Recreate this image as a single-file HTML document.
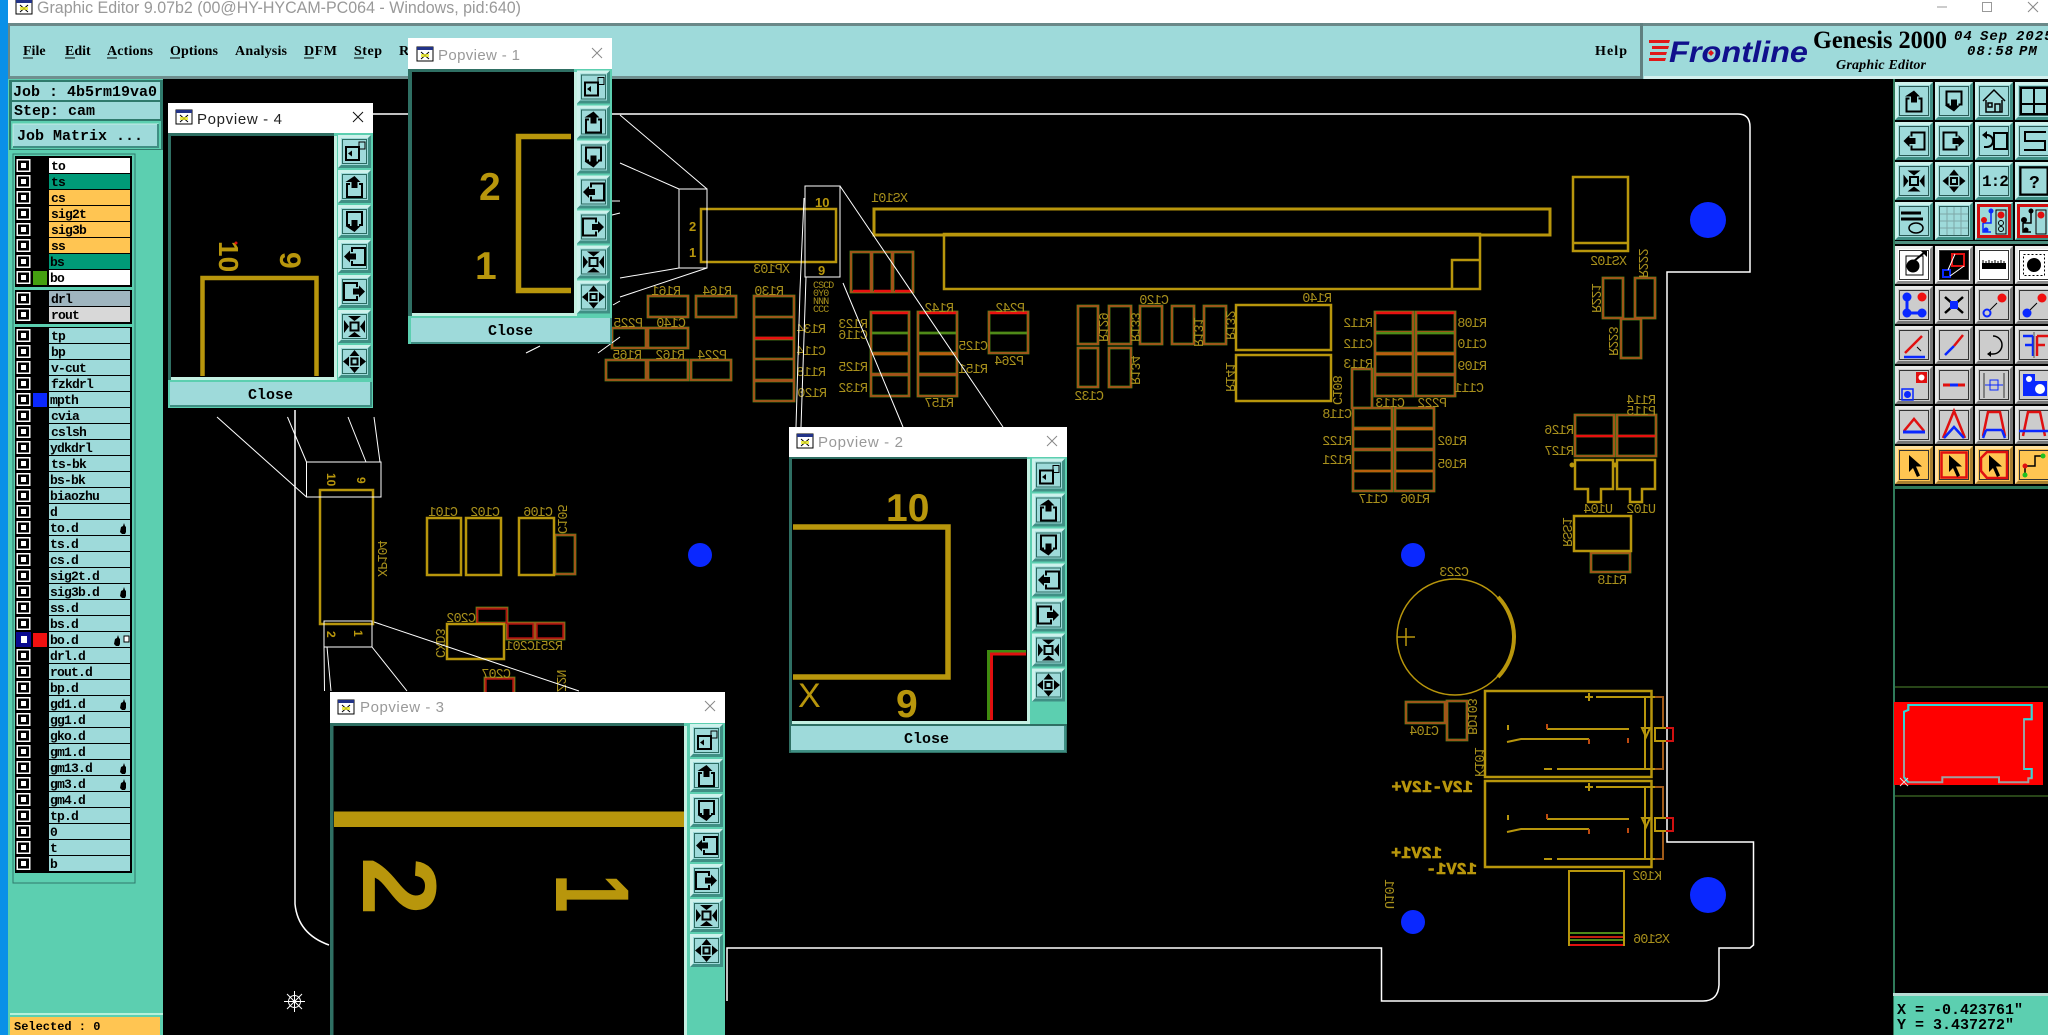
<!DOCTYPE html>
<html><head><meta charset="utf-8"><title>Graphic Editor</title>
<style>
html,body{margin:0;padding:0;background:#000;width:2048px;height:1035px;overflow:hidden}
svg{display:block;position:absolute;left:0;top:0}
text{white-space:pre}
.m{font:bold 15px "Liberation Mono",monospace;fill:#000}
.l{font:bold 13px "Liberation Mono",monospace;letter-spacing:-.8px;fill:#000}
.n{font:bold 14px "Liberation Serif",serif;fill:#000}
.p{font:13.5px "Liberation Mono",monospace;letter-spacing:-.9px;fill:#a8901c}
.w{fill:none;stroke:#fff;stroke-width:1}
.g{fill:none;stroke:#b8960c;stroke-width:2.5}
.t{font:15px "Liberation Sans",sans-serif;fill:#999}
.d{font-family:"Liberation Sans",sans-serif;font-weight:bold;fill:#b8960c}
.b{font:bold 17px "Liberation Mono",monospace;fill:#b8960c;stroke:#b8960c;stroke-width:.6}
.i{fill:none;stroke:#000;stroke-width:2}
</style></head><body>
<svg width="2048" height="1035" viewBox="0 0 2048 1035" xmlns="http://www.w3.org/2000/svg">
<defs>
<path id="smd" d="M648 296h40v21h-40zM696 296h40v21h-40zM754 296h40v21h-40zM754 317h40v21h-40zM754 339h40v20h-40zM754 359h40v21h-40zM754 381h40v20h-40zM612 328h34v20h-34zM648 328h40v20h-40zM606 360h40v20h-40zM648 360h40v20h-40zM691 360h40v20h-40zM851 252h20v40h-20zM872 252h20v40h-20zM893 252h20v40h-20zM871 312h38v21h-38zM871 333h38v20h-38zM871 354h38v20h-38zM871 375h38v21h-38zM918 312h39v21h-39zM918 333h39v20h-39zM918 354h39v20h-39zM918 375h39v21h-39zM989 312h39v21h-39zM989 333h39v20h-39zM1078 306h20v38h-20zM1109 306h22v38h-22zM1140 306h22v38h-22zM1172 306h22v38h-22zM1204 306h22v38h-22zM1078 348h20v39h-20zM1109 348h22v39h-22zM1352 369h20v39h-20zM1375 312h38v20h-38zM1375 333h38v20h-38zM1375 354h38v20h-38zM1375 375h38v21h-38zM1416 312h39v20h-39zM1416 333h39v20h-39zM1416 354h39v20h-39zM1416 375h39v21h-39zM1353 408h39v20h-39zM1353 429h39v20h-39zM1353 450h39v21h-39zM1353 471h39v20h-39zM1395 408h39v20h-39zM1395 429h39v20h-39zM1395 450h39v21h-39zM1395 471h39v20h-39zM1603 278h20v40h-20zM1635 278h20v40h-20zM1621 319h20v39h-20zM1575 415h39v21h-39zM1575 436h39v20h-39zM1617 415h39v21h-39zM1617 436h39v20h-39zM1591 553h39v19h-39zM1406 702h39v21h-39zM1447 701h20v39h-20zM555 535h20v39h-20zM477 608h30v15h-30zM507 623h27v16h-27zM536 623h28v16h-28zM485 678h29v30h-29z"/>
<g id="cb"><rect x="16.5" y="1" width="14" height="13" fill="#fff"/><rect x="18" y="2.5" width="11" height="10" fill="#000"/><rect x="21" y="5" width="5" height="5" fill="#fff"/></g>
<g id="r"><use href="#cb"/><rect x="49" y="0" width="81" height="15" fill="#9edada"/></g>
<path id="hand" d="M0 9l1-5 2-1 1-3 1 3 1 1v5l-1 2H2z" fill="#000"/>
<g id="wi"><rect width="16" height="14" fill="#fff" stroke="#000"/><rect width="16" height="3" fill="#223388"/><path d="M4 5l8 7M12 5l-8 7" stroke="#000"/><rect x="4" y="7" width="8" height="3" fill="#e8e820" opacity=".8"/></g>
<g id="iup"><path d="M16.5 6l6 6h-3v6h-6v-6h-6z"/><path class="i" d="M12 14H9v13h15V14h-3"/></g>
<g id="idn"><path class="i" d="M21 20h3V7H9v13h3"/><path d="M16.5 27l6-6h-3v-6h-6v6h-6z"/></g>
<g id="ilf"><path d="M6 16.5l6-6v3h6v6h-6v3z"/><path class="i" d="M14 12V8h13v17H14v-4"/></g>
<g id="irt"><path d="M27 16.5l-6-6v3h-6v6h6v3z"/><path class="i" d="M19 12V8H6v17h13v-4"/></g>
<g id="iin"><rect class="i" x="12.5" y="12.5" width="8" height="8"/><path d="M10 6h13l-6.5 5zM10 27h13l-6.5-5zM6 10v13l5-6.5zM27 10v13l-5-6.5z"/></g>
<g id="iout"><rect class="i" x="13.5" y="13.5" width="6" height="6"/><path d="M16.5 5l5 6h-10zM16.5 28l5-6h-10zM5 16.5l6 5v-10zM28 16.5l-6 5v-10z"/></g>
<g id="iback"><rect class="i" x="8" y="12" width="13" height="13"/><rect x="21" y="7" width="6" height="7" fill="none" stroke="#000"/><path d="M10 18.5l4-3v6z"/></g>
<g id="pb"><rect width="33" height="33" fill="#9edada"/><path d="M0 33V0h33l-3 3H3v27z" fill="#cdf2ec"/><path d="M33 0v33H0l3-3h27V3z" fill="#3f8f84"/><rect x="4.5" y="4.5" width="24" height="24" fill="none" stroke="#2a6a60"/></g>
<g id="side">
<use href="#pb"/><use href="#iback"/>
<g transform="translate(0,35)"><use href="#pb"/><use href="#iup"/></g>
<g transform="translate(0,70)"><use href="#pb"/><use href="#idn"/></g>
<g transform="translate(0,105)"><use href="#pb"/><use href="#ilf"/></g>
<g transform="translate(0,140)"><use href="#pb"/><use href="#irt"/></g>
<g transform="translate(0,175)"><use href="#pb"/><use href="#iin"/></g>
<g transform="translate(0,210)"><use href="#pb"/><use href="#iout"/></g>
</g>
<g id="bT"><rect width="38" height="38" fill="#9edada"/><path d="M0 38V0h38l-3 3H3v32z" fill="#cdf2ec"/><path d="M38 0v38H0l3-3h32V3z" fill="#3f8f84"/><rect x="4.5" y="4.5" width="29" height="29" fill="none" stroke="#2a5a55"/></g>
<g id="bW"><rect width="38" height="38" fill="#fff"/><path d="M0 38V0h38l-3 3H3v32z" fill="#eee"/><path d="M38 0v38H0l3-3h32V3z" fill="#8a8a8a"/><rect x="4.5" y="4.5" width="29" height="29" fill="none" stroke="#333"/></g>
<g id="bG"><rect width="38" height="38" fill="#cccccc"/><path d="M0 38V0h38l-3 3H3v32z" fill="#e8e8e8"/><path d="M38 0v38H0l3-3h32V3z" fill="#777"/><rect x="4.5" y="4.5" width="29" height="29" fill="none" stroke="#333"/></g>
<g id="bO"><rect width="38" height="38" fill="#ffc552"/><path d="M0 38V0h38l-3 3H3v32z" fill="#ffe0a0"/><path d="M38 0v38H0l3-3h32V3z" fill="#a88030"/><rect x="4.5" y="4.5" width="29" height="29" fill="none" stroke="#333"/></g>
<path id="cur" d="M14 9v17l4-4 4 9 3-1.500-4-9h6z"/>
<g id="kk">
<rect class="g" x="1485" y="691" width="166.500" height="86"/>
<path d="M1596 697h59M1557 769h98M1645 697v72" fill="none" stroke="#b8960c" stroke-width="2"/>
<path d="M1655 697h8v31M1663 741v28h-8" fill="none" stroke="#a05a18" stroke-width="2"/>
<path d="M1585 697h8M1589 693v8M1544 769h8" stroke="#b8960c" stroke-width="2"/>
<path d="M1547 729h82M1507 742l14-3h68M1508 725v5" fill="none" stroke="#b8960c" stroke-width="2"/>
<path d="M1589 739v5M1628 738v5M1547 724v5" stroke="#c04a10" stroke-width="2"/>
<path d="M1642 728h8l-4 9z" fill="none" stroke="#b8960c" stroke-width="2"/>
<path d="M1666 728h-11v13h11" fill="none" stroke="#b8960c" stroke-width="2"/>
<path d="M1666 728h7v13h-7" fill="none" stroke="#d01010" stroke-width="2"/>
</g>
</defs>

<rect width="2048" height="1035" fill="#000"/>
<!-- window chrome -->
<rect x="0" y="0" width="8" height="1035" fill="#0a90e8"/>
<rect x="8" y="0" width="2040" height="23" fill="#fff"/>
<use href="#wi" x="16" y="0"/>
<text x="37" y="13" font-family="Liberation Sans,sans-serif" font-size="16.500" fill="#999" textLength="484" lengthAdjust="spacingAndGlyphs">Graphic Editor 9.07b2 (00@HY-HYCAM-PC064 - Windows, pid:640)</text>
<path d="M1937 7h10" stroke="#999"/><rect x="1982.500" y="2.500" width="9" height="9" fill="none" stroke="#999"/><path d="M2028 2l10 10M2038 2l-10 10" stroke="#888"/>

<!-- menu bar -->
<rect x="8" y="23" width="2040" height="56" fill="#9edada"/>
<rect x="8" y="23" width="2040" height="3" fill="#6a8888"/>
<rect x="8" y="76" width="1632" height="3" fill="#6f8f8f"/>
<rect x="1644" y="76" width="404" height="3" fill="#d4f0ee"/>
<rect x="8" y="23" width="2" height="56" fill="#6a8888"/>
<rect x="1640" y="23" width="3" height="56" fill="#5f7f7f"/>
<text class="n" x="23" y="55">File</text><path d="M23 58h10" stroke="#000"/>
<text class="n" x="65" y="55">Edit</text><path d="M65 58h10" stroke="#000"/>
<text class="n" x="107" y="55" textLength="46">Actions</text><path d="M107 58h10" stroke="#000"/>
<text class="n" x="170" y="55" textLength="48">Options</text><path d="M170 58h10" stroke="#000"/>
<text class="n" x="235" y="55" textLength="52">Analysis</text>
<text class="n" x="304" y="55" textLength="33">DFM</text><path d="M304 58h10" stroke="#000"/>
<text class="n" x="354" y="55" textLength="28">Step</text><path d="M354 58h10" stroke="#000"/>
<text class="n" x="399" y="55">R</text>
<text class="n" x="1595" y="55" textLength="32">Help</text>
<path d="M1649 40h21l-1 3h-20zM1652 46h17l-1 3h-16zM1650 52h17l-1 3h-16zM1649 58h17l-1 3h-16z" fill="#e01818"/>
<text x="1669" y="62" font-family="Liberation Sans,sans-serif" font-weight="bold" font-style="italic" font-size="30" fill="#10108c" textLength="139" lengthAdjust="spacingAndGlyphs">Frontline</text>
<path d="M1711 50l3 3-3 3-3-3z" fill="#e01818"/>
<text x="1813" y="48" font-family="Liberation Serif,serif" font-weight="bold" font-size="25" fill="#000" textLength="134" lengthAdjust="spacingAndGlyphs">Genesis 2000</text>
<text x="1836" y="69" font-family="Liberation Serif,serif" font-weight="bold" font-style="italic" font-size="14" fill="#000" textLength="90">Graphic Editor</text>
<g font-family="Liberation Mono,monospace" font-weight="bold" font-style="italic" font-size="14" fill="#000" letter-spacing="1">
<text x="1954" y="40">04</text><text x="1980" y="40">Sep</text><text x="2016" y="40">2025</text>
<text x="1967" y="55">08:58</text><text x="2019" y="55">PM</text></g>

<!-- left panel -->
<rect x="8" y="79" width="155" height="956" fill="#5ccfb0"/>
<rect x="9" y="80" width="154" height="70" fill="#2f7a6c"/>
<rect x="12" y="82" width="148" height="18" fill="#9edada"/>
<rect x="12" y="102" width="148" height="17" fill="#9edada"/>
<rect x="11" y="121" width="150" height="28" fill="#5ccfb0"/>
<rect x="13" y="124" width="145" height="23" fill="#9edada" stroke="#c4ece6"/>
<path d="M13 147h145v-23" fill="none" stroke="#3f8f84" stroke-width="2"/>
<text class="m" x="13" y="96">Job : 4b5rm19va0</text>
<text class="m" x="14" y="115">Step: cam</text>
<text class="m" x="17" y="140">Job Matrix ...</text>

<rect x="13" y="154" width="122" height="729" fill="#5ccfb0" stroke="#2f7a6c"/>
<rect x="15" y="156" width="117" height="131" fill="#000"/>
<rect x="15" y="290" width="117" height="34" fill="#000"/>
<rect x="15" y="327" width="117" height="546" fill="#000"/>

<g transform="translate(0,158)"><use href="#cb"/><rect x="49" width="81" height="15" fill="#fff"/><text class="l" x="51" y="12">to</text></g>
<g transform="translate(0,174)"><use href="#cb"/><rect x="49" width="81" height="15" fill="#009a78"/><text class="l" x="51" y="12">ts</text></g>
<g transform="translate(0,190)"><use href="#cb"/><rect x="49" width="81" height="15" fill="#ffc552"/><text class="l" x="51" y="12">cs</text></g>
<g transform="translate(0,206)"><use href="#cb"/><rect x="49" width="81" height="15" fill="#ffc552"/><text class="l" x="51" y="12">sig2t</text></g>
<g transform="translate(0,222)"><use href="#cb"/><rect x="49" width="81" height="15" fill="#ffc552"/><text class="l" x="51" y="12">sig3b</text></g>
<g transform="translate(0,238)"><use href="#cb"/><rect x="49" width="81" height="15" fill="#ffc552"/><text class="l" x="51" y="12">ss</text></g>
<g transform="translate(0,254)"><use href="#cb"/><rect x="49" width="81" height="15" fill="#009a78"/><text class="l" x="50" y="12">bs</text></g>
<g transform="translate(0,270)"><use href="#cb"/><rect x="33" y="1" width="14" height="14" fill="#45a010"/><rect x="49" width="81" height="15" fill="#fff"/><text class="l" x="50" y="12">bo</text></g>
<g transform="translate(0,291)"><use href="#cb"/><rect x="49" width="81" height="15" fill="#9fb5bf"/><text class="l" x="51" y="12">drl</text></g>
<g transform="translate(0,307)"><use href="#cb"/><rect x="49" width="81" height="15" fill="#d8d8d8"/><text class="l" x="51" y="12">rout</text></g>

<g transform="translate(0,328)"><use href="#r"/><text class="l" x="51" y="12">tp</text></g>
<g transform="translate(0,344)"><use href="#r"/><text class="l" x="51" y="12">bp</text></g>
<g transform="translate(0,360)"><use href="#r"/><text class="l" x="51" y="12">v-cut</text></g>
<g transform="translate(0,376)"><use href="#r"/><text class="l" x="51" y="12">fzkdrl</text></g>
<g transform="translate(0,392)"><use href="#r"/><rect x="33" y="1" width="14" height="14" fill="#0a28ff"/><text class="l" x="50" y="12">mpth</text></g>
<g transform="translate(0,408)"><use href="#r"/><text class="l" x="51" y="12">cvia</text></g>
<g transform="translate(0,424)"><use href="#r"/><text class="l" x="51" y="12">cslsh</text></g>
<g transform="translate(0,440)"><use href="#r"/><text class="l" x="50" y="12">ydkdrl</text></g>
<g transform="translate(0,456)"><use href="#r"/><text class="l" x="51" y="12">ts-bk</text></g>
<g transform="translate(0,472)"><use href="#r"/><text class="l" x="50" y="12">bs-bk</text></g>
<g transform="translate(0,488)"><use href="#r"/><text class="l" x="50" y="12">biaozhu</text></g>
<g transform="translate(0,504)"><use href="#r"/><text class="l" x="50" y="12">d</text></g>
<g transform="translate(0,520)"><use href="#r"/><text class="l" x="50" y="12">to.d</text><use href="#hand" x="120" y="3"/></g>
<g transform="translate(0,536)"><use href="#r"/><text class="l" x="50" y="12">ts.d</text></g>
<g transform="translate(0,552)"><use href="#r"/><text class="l" x="50" y="12">cs.d</text></g>
<g transform="translate(0,568)"><use href="#r"/><text class="l" x="50" y="12">sig2t.d</text></g>
<g transform="translate(0,584)"><use href="#r"/><text class="l" x="50" y="12">sig3b.d</text><use href="#hand" x="120" y="3"/></g>
<g transform="translate(0,600)"><use href="#r"/><text class="l" x="50" y="12">ss.d</text></g>
<g transform="translate(0,616)"><use href="#r"/><text class="l" x="50" y="12">bs.d</text></g>
<g transform="translate(0,632)"><rect x="16" y="0" width="15" height="15" fill="#0a0a90"/><rect x="21" y="4" width="6" height="7" fill="#fff"/><rect x="33" y="1" width="14" height="14" fill="#f01010"/><rect x="49" width="81" height="15" fill="#9edada"/><text class="l" x="50" y="12">bo.d</text><use href="#hand" x="114" y="3"/><rect x="124" y="4" width="5" height="6" fill="#fff" stroke="#000"/></g>
<g transform="translate(0,648)"><use href="#r"/><text class="l" x="50" y="12">drl.d</text></g>
<g transform="translate(0,664)"><use href="#r"/><text class="l" x="50" y="12">rout.d</text></g>
<g transform="translate(0,680)"><use href="#r"/><text class="l" x="50" y="12">bp.d</text></g>
<g transform="translate(0,696)"><use href="#r"/><text class="l" x="50" y="12">gd1.d</text><use href="#hand" x="120" y="3"/></g>
<g transform="translate(0,712)"><use href="#r"/><text class="l" x="50" y="12">gg1.d</text></g>
<g transform="translate(0,728)"><use href="#r"/><text class="l" x="50" y="12">gko.d</text></g>
<g transform="translate(0,744)"><use href="#r"/><text class="l" x="50" y="12">gm1.d</text></g>
<g transform="translate(0,760)"><use href="#r"/><text class="l" x="50" y="12">gm13.d</text><use href="#hand" x="120" y="3"/></g>
<g transform="translate(0,776)"><use href="#r"/><text class="l" x="50" y="12">gm3.d</text><use href="#hand" x="120" y="3"/></g>
<g transform="translate(0,792)"><use href="#r"/><text class="l" x="50" y="12">gm4.d</text></g>
<g transform="translate(0,808)"><use href="#r"/><text class="l" x="50" y="12">tp.d</text></g>
<g transform="translate(0,824)"><use href="#r"/><text class="l" x="50" y="12">0</text></g>
<g transform="translate(0,840)"><use href="#r"/><text class="l" x="50" y="12">t</text></g>
<g transform="translate(0,856)"><use href="#r"/><text class="l" x="50" y="12">b</text></g>

<rect x="10" y="1013" width="153" height="2" fill="#b8f0dc"/>
<rect x="10" y="1017" width="150" height="18" fill="#ffc552"/>
<text x="14" y="1030" font-family="Liberation Mono,monospace" font-weight="bold" font-size="12" fill="#000">Selected : 0</text>

<!-- board outline -->
<path class="w" d="M373 114H1738Q1750 114 1750 127V272H1667V842H1753.500V945L1750 948H1719V985Q1718 1001 1703 1001H1381.500V948H727V1001" style="stroke-width:1.500"/>
<path class="w" d="M295 410V904Q298 934 329 945" style="stroke-width:1.500"/>

<!-- blue holes -->
<g fill="#0a28ff"><circle cx="700" cy="555" r="12"/><circle cx="1413" cy="555" r="12"/><circle cx="1708" cy="220" r="18"/><circle cx="1708" cy="895" r="18"/><circle cx="1413" cy="922" r="12"/></g>

<!-- SMD pads -->
<use href="#smd" fill="none" stroke="#4f8a18" stroke-width="2.800"/>
<use href="#smd" fill="none" stroke="#a8501a" stroke-width="1.800"/>
<path d="M477.500 609h29v14h-29zM508 624h25v14h-25zM537 624h26v14h-26zM486 679h27v30h-27z" fill="none" stroke="#b01010" stroke-width="1.500"/>
<!-- red / orange accents -->
<path d="M755 338h38M853 291h17M874 291h17M895 291h17M872 313h36M919 313h37M990 313h37M1376 313h36M1417 313h37M1576 436h37M1618 436h37" stroke="#e81010" stroke-width="2.500"/>
<path d="M872 354h36M919 354h37M1376 354h36M1417 354h37M1354 429h37M1396 429h37M1354 471h37M1396 471h37" stroke="#b8600c" stroke-width="2.500"/>
<path d="M872 333h36M919 333h37M990 333h37M1376 333h36M1417 333h37" stroke="#4f8a18" stroke-width="2"/>

<!-- gold outlines -->
<g class="g">
<rect class="g" x="320" y="490" width="53" height="134"/>
<rect class="g" x="427" y="518" width="34" height="57"/>
<rect class="g" x="466" y="518" width="35" height="57"/>
<rect class="g" x="519" y="518" width="35" height="57"/>
<rect class="g" x="447" y="624" width="57" height="35"/>
<rect class="g" x="701" y="209" width="135" height="53"/>
<path class="g" style="stroke-width:3" d="M874 209H1550V235H874Z"/>
<path class="g" d="M944 289V234H1480V289ZM1452 289V260H1480"/>
<rect class="g" x="1236" y="305" width="95" height="45"/>
<rect class="g" x="1236" y="355" width="95" height="46"/>
<path class="g" d="M1573 177h55v74h-55zM1573 243h55"/>
<path class="g" d="M1575 460h38v29h-12v13h-13v-13h-13zM1617 460h38v29h-13v13h-12v-13h-13z"/>
<rect class="g" x="1574" y="516" width="57" height="35"/>
<circle class="g" cx="1455" cy="637" r="58" style="stroke-width:1.500"/>
<path class="g" d="M1498 597A58 58 0 0 1 1498 677" style="stroke-width:4"/>
<path class="g" d="M1397 637h18M1406 628v18" style="stroke-width:1.500"/>
<rect class="g" x="1569" y="871" width="55" height="74" style="stroke-width:2"/>
</g>
<path d="M1570 933h53" stroke="#4f8a18" stroke-width="2"/><path d="M1570 937h53" stroke="#c02010" stroke-width="2"/><path d="M1570 940h53" stroke="#4f8a18" stroke-width="2"/><path d="M1570 945h53" stroke="#e01010" stroke-width="2"/>
<circle cx="1572" cy="465" r="2.500" fill="#b8960c"/><circle cx="1615" cy="465" r="2.500" fill="#b8960c"/>
<use href="#kk"/><use href="#kk" y="90"/>

<!-- mirrored labels -->
<g class="p">
<text class="p" transform="matrix(-1 0 0 1 458 516)">C101</text><text class="p" transform="matrix(-1 0 0 1 500 516)">C102</text><text class="p" transform="matrix(-1 0 0 1 553 516)">C106</text>
<text class="p" transform="matrix(-1 0 0 1 476 622)">C202</text><text class="p" transform="matrix(-1 0 0 1 535 650)">C201</text><text class="p" transform="matrix(-1 0 0 1 563 650)">R251</text><text class="p" transform="matrix(-1 0 0 1 511 678)">C207</text>
<text class="p" transform="matrix(-1 0 0 1 908 202)">XS101</text><text class="p" transform="matrix(-1 0 0 1 790 273)">XP103</text>
<text class="p" transform="matrix(-1 0 0 1 681 295)">R161</text><text class="p" transform="matrix(-1 0 0 1 732 295)">R164</text><text class="p" transform="matrix(-1 0 0 1 784 295)">R130</text>
<text class="p" transform="matrix(-1 0 0 1 643 327)">P225</text><text class="p" transform="matrix(-1 0 0 1 686 327)">C140</text>
<text class="p" transform="matrix(-1 0 0 1 642 359)">R165</text><text class="p" transform="matrix(-1 0 0 1 685 359)">R162</text><text class="p" transform="matrix(-1 0 0 1 727 359)">P224</text>
<text class="p" transform="matrix(-1 0 0 1 826 333)">R134</text><text class="p" transform="matrix(-1 0 0 1 826 355)">C114</text><text class="p" transform="matrix(-1 0 0 1 826 376)">R118</text><text class="p" transform="matrix(-1 0 0 1 827 397)">R120</text>
<text class="p" transform="matrix(-1 0 0 1 868 328)">R123</text><text class="p" transform="matrix(-1 0 0 1 868 339)">C116</text><text class="p" transform="matrix(-1 0 0 1 868 371)">R125</text><text class="p" transform="matrix(-1 0 0 1 868 392)">R132</text>
<text class="p" transform="matrix(-1 0 0 1 954 312)">R142</text><text class="p" transform="matrix(-1 0 0 1 954 407)">R157</text><text class="p" transform="matrix(-1 0 0 1 1025 312)">P242</text><text class="p" transform="matrix(-1 0 0 1 1024 365)">P264</text>
<text class="p" transform="matrix(-1 0 0 1 988 350)">C125</text><text class="p" transform="matrix(-1 0 0 1 988 373)">R151</text>
<text class="p" transform="matrix(-1 0 0 1 1169 304)">C120</text><text class="p" transform="matrix(-1 0 0 1 1104 400)">C132</text><text class="p" transform="matrix(-1 0 0 1 1332 302)">R140</text><text class="p" transform="matrix(-1 0 0 1 1352 418)">C118</text>
<text class="p" transform="matrix(-1 0 0 1 1373 327)">R112</text><text class="p" transform="matrix(-1 0 0 1 1373 348)">C112</text><text class="p" transform="matrix(-1 0 0 1 1373 368)">R113</text>
<text class="p" transform="matrix(-1 0 0 1 1487 327)">R108</text><text class="p" transform="matrix(-1 0 0 1 1487 348)">C110</text><text class="p" transform="matrix(-1 0 0 1 1487 370)">R109</text><text class="p" transform="matrix(-1 0 0 1 1484 392)">C111</text>
<text class="p" transform="matrix(-1 0 0 1 1405 407)">C113</text><text class="p" transform="matrix(-1 0 0 1 1447 407)">P222</text>
<text class="p" transform="matrix(-1 0 0 1 1352 445)">R122</text><text class="p" transform="matrix(-1 0 0 1 1352 464)">R121</text><text class="p" transform="matrix(-1 0 0 1 1467 445)">R102</text><text class="p" transform="matrix(-1 0 0 1 1467 468)">R105</text>
<text class="p" transform="matrix(-1 0 0 1 1388 503)">C117</text><text class="p" transform="matrix(-1 0 0 1 1430 503)">R106</text>
<text class="p" transform="matrix(-1 0 0 1 1627 265)">XS102</text><text class="p" transform="matrix(-1 0 0 1 1656 404)">R114</text><text class="p" transform="matrix(-1 0 0 1 1656 415)">P115</text>
<text class="p" transform="matrix(-1 0 0 1 1574 434)">R126</text><text class="p" transform="matrix(-1 0 0 1 1574 455)">R127</text><text class="p" transform="matrix(-1 0 0 1 1613 513)">U104</text><text class="p" transform="matrix(-1 0 0 1 1656 513)">U102</text>
<text class="p" transform="matrix(-1 0 0 1 1627 584)">R118</text><text class="p" transform="matrix(-1 0 0 1 1469 576)">C223</text><text class="p" transform="matrix(-1 0 0 1 1439 735)">C104</text><text class="p" transform="matrix(-1 0 0 1 1662 880)">K102</text><text class="p" transform="matrix(-1 0 0 1 1670 943)">XS106</text>
<!-- rotated -->
<text class="p" transform="matrix(0 -1 -1 0 378 577)">XP104</text><text class="p" transform="matrix(0 -1 -1 0 558 534)">C105</text><text class="p" transform="matrix(0 -1 -1 0 436 658)">CXD3</text><text class="p" transform="matrix(0 -1 -1 0 557 692)">Z2N</text>
<text class="p" transform="matrix(0 -1 -1 0 1099 342)">R129</text><text class="p" transform="matrix(0 -1 -1 0 1131 342)">R133</text><text class="p" transform="matrix(0 -1 -1 0 1131 385)">R134</text><text class="p" transform="matrix(0 -1 -1 0 1194 347)">R131</text><text class="p" transform="matrix(0 -1 -1 0 1226 340)">R132</text><text class="p" transform="matrix(0 -1 -1 0 1226 392)">R141</text><text class="p" transform="matrix(0 -1 -1 0 1333 405)">C108</text>
<text class="p" transform="matrix(0 -1 -1 0 1592 313)">R221</text><text class="p" transform="matrix(0 -1 -1 0 1639 278)">R222</text><text class="p" transform="matrix(0 -1 -1 0 1609 356)">R223</text><text class="p" transform="matrix(0 -1 -1 0 1563 547)">RSS1</text><text class="p" transform="matrix(0 -1 -1 0 1468 735)">BD103</text><text class="p" transform="matrix(0 -1 -1 0 1475 777)">K101</text><text class="p" transform="matrix(0 -1 -1 0 1385 909)">U101</text>
<text style="font:10px 'Liberation Mono',monospace;fill:#a8901c" x="813" y="288">CSCD</text><text style="font:10px 'Liberation Mono',monospace;fill:#a8901c" x="813" y="296">0Y0</text><text style="font:10px 'Liberation Mono',monospace;fill:#a8901c" x="813" y="304">NNN</text><text style="font:10px 'Liberation Mono',monospace;fill:#a8901c" x="813" y="312">CCC</text>
</g>
<text class="d" font-size="13" x="689" y="231">2</text><text class="d" font-size="13" x="689" y="257">1</text>
<text class="d" font-size="13" x="815" y="207">10</text><text class="d" font-size="13" x="818" y="275">9</text>
<text class="d" font-size="12" transform="matrix(0 1 -1 0 327 473)">10</text><text class="d" font-size="12" transform="matrix(0 1 -1 0 357 477)">9</text>
<text class="d" font-size="12" transform="matrix(0 1 -1 0 327 631)">2</text><text class="d" font-size="12" transform="matrix(0 1 -1 0 354 630)">1</text>
<text class="b" transform="matrix(-1 0 0 1 1473 792)">12V-12V+</text>
<text class="b" transform="matrix(-1 0 0 1 1442 858)">12V1+</text>
<text class="b" transform="matrix(-1 0 0 1 1477 874)">12V1-</text>

<!-- magnifier lines -->
<g class="w">
<rect class="w" x="679" y="189" width="28" height="79"/>
<rect class="w" x="805" y="186" width="35" height="91"/>
<rect class="w" x="306.500" y="462" width="74.500" height="35"/>
<rect class="w" x="324" y="621" width="48" height="26"/>
<path class="w" d="M679 189L620 163M707 189L620 115M679 268L620 278M707 268L620 297M611 201L620 201M612 215L620 213M613 305L620 301M598 353L620 337M526 353L540 346"/>
<path class="w" d="M840 186L1003 427M843 283L903 427M804 198L800 290L796 427M806 277L801 427"/>
<path class="w" d="M217 417L306.500 497M287.500 417L306.500 462M348 417L366 462M374 417L380 462"/>
<path class="w" d="M374 622L579 691M372 647L407 691M324 647L324.500 691M327 647L331 691"/>
</g>
<!-- compass -->
<g stroke="#fff" stroke-width="1" fill="none"><circle cx="294.500" cy="1001.500" r="6"/><path d="M284 1001.500h21M294.500 991v21M287 994l15 15M302 994l-15 15"/></g>

<!-- right toolbar -->
<rect x="1893" y="79" width="155" height="956" fill="#000"/>
<rect x="1893" y="79" width="2" height="956" fill="#2f7a5a"/>
<rect x="1895" y="241" width="153" height="3" fill="#4f8f80"/>
<rect x="1893" y="486" width="155" height="3" fill="#2f7a5a"/>

<g transform="translate(1895,82)"><use href="#bT"/><use href="#iup" x="2.500" y="2.500"/></g>
<g transform="translate(1935,82)"><use href="#bT"/><use href="#idn" x="2.500" y="2.500"/></g>
<g transform="translate(1975,82)"><use href="#bT"/><path d="M8 19L19 8l11 11M11 18v12h16V18M20 30v-8h5v8M13 21h4v4h-4z" fill="none" stroke="#000" stroke-width="1.500"/></g>
<g transform="translate(2015,82)"><use href="#bT"/><path d="M6 6h26v26H6zM19 6v26M6 22h26" fill="none" stroke="#000" stroke-width="2"/></g>
<g transform="translate(1895,122)"><use href="#bT"/><use href="#ilf" x="2.500" y="2.500"/></g>
<g transform="translate(1935,122)"><use href="#bT"/><use href="#irt" x="2.500" y="2.500"/></g>
<g transform="translate(1975,122)"><use href="#bT"/><path d="M19 11h13v16H19zM9 13h3a6 6 0 0 1 0 12H9" fill="none" stroke="#000" stroke-width="2"/><path d="M7 13l5-4v8z"/></g>
<g transform="translate(2015,122)"><use href="#bT"/><path d="M31 10H10v9h20v9H9" fill="none" stroke="#000" stroke-width="2"/></g>
<g transform="translate(1895,162)"><use href="#bT"/><use href="#iin" x="2.500" y="2.500"/></g>
<g transform="translate(1935,162)"><use href="#bT"/><use href="#iout" x="2.500" y="2.500"/></g>
<g transform="translate(1975,162)"><use href="#bT"/><text x="7" y="24" font-family="Liberation Mono,monospace" font-weight="bold" font-size="16" letter-spacing="-1">1:2</text></g>
<g transform="translate(2015,162)"><use href="#bT"/><rect x="5.500" y="5.500" width="27" height="27" fill="none" stroke="#000" stroke-width="2"/><text x="14" y="26" font-family="Liberation Mono,monospace" font-weight="bold" font-size="18">?</text></g>
<g transform="translate(1895,202)"><use href="#bT"/><path d="M6 11h20M6 17h22" stroke="#000" stroke-width="3"/><ellipse cx="21" cy="26" rx="7" ry="5" fill="none" stroke="#000" stroke-width="1.500"/></g>
<g transform="translate(1935,202)"><use href="#bT"/><path d="M5 19h28M5 12h28M5 26h28M19 5v28M12 5v28M26 5v28" stroke="#7fa8a8" stroke-width="1"/></g>
<g transform="translate(1975,202)"><use href="#bT"/><rect x="3.500" y="3.500" width="31" height="31" fill="#9edada" stroke="#d01010" stroke-width="3"/><path d="M16 9v12H8M8 21v9h8" fill="none" stroke="#0a28ff" stroke-width="1.500"/><circle cx="9" cy="18" r="3" fill="#e01010"/><circle cx="16" cy="9" r="2.500" fill="#0a28ff"/><circle cx="11" cy="28" r="2.500" fill="#0a28ff"/><rect x="21" y="8" width="10" height="24" fill="none" stroke="#000"/><circle cx="26" cy="13" r="3.500" fill="#e01010"/><circle cx="26" cy="21" r="2.500" fill="none" stroke="#000"/><circle cx="26" cy="27" r="2.500" fill="none" stroke="#000"/></g>
<g transform="translate(2015,202)"><use href="#bT"/><rect x="3.500" y="3.500" width="31" height="31" fill="#9edada" stroke="#d01010" stroke-width="3"/><path d="M16 9v12H8M8 21v9h8" fill="none" stroke="#000" stroke-width="1.500"/><circle cx="9" cy="18" r="3"/><circle cx="16" cy="9" r="2.500"/><circle cx="11" cy="28" r="2.500"/><rect x="21" y="8" width="10" height="24" fill="none" stroke="#000"/><circle cx="26" cy="13" r="3.500" fill="#e01010"/></g>

<g transform="translate(1895,246)"><use href="#bW"/><circle cx="18" cy="20" r="6.500"/><path d="M19 15l11-9" stroke="#000" stroke-width="2"/><path d="M26 5h6v6z"/><rect x="11" y="10" width="17" height="19" fill="none" stroke="#000"/></g>
<g transform="translate(1935,246)"><use href="#bW"/><rect x="5" y="5" width="28" height="28"/><rect x="17" y="8" width="12" height="12" fill="none" stroke="#e01010" stroke-width="2"/><rect x="8" y="24" width="7" height="7" fill="none" stroke="#0a28ff" stroke-width="2"/><path d="M13 24l7-16M15 30l14-10" stroke="#fff"/></g>
<g transform="translate(1975,246)"><use href="#bW"/><path d="M7 17h24v6H7z"/><path d="M8 14v4M11 15v3M14 14v4M17 15v3M20 14v4M23 15v3M26 14v4M29 15v3" stroke="#000"/></g>
<g transform="translate(2015,246)"><use href="#bW"/><rect x="8.500" y="8.500" width="21" height="21" fill="none" stroke="#000" stroke-dasharray="2 2"/><circle cx="19" cy="19" r="7"/></g>

<g transform="translate(1895,286)"><use href="#bG"/><path d="M12 11v16h15" fill="none" stroke="#0a28ff" stroke-width="3"/><circle cx="12" cy="11" r="4.500" fill="#0a28ff"/><circle cx="27" cy="11" r="4.500" fill="#f01010"/><circle cx="12" cy="27" r="4.500" fill="#0a28ff"/><circle cx="27" cy="27" r="4.500" fill="#0a28ff"/></g>
<g transform="translate(1935,286)"><use href="#bG"/><path d="M10 11l18 16M28 11L10 27" stroke="#000" stroke-width="2.500"/><rect x="15" y="15" width="8" height="8" fill="#0a28ff"/></g>
<g transform="translate(1975,286)"><use href="#bG"/><circle cx="12" cy="27" r="3.500" fill="none" stroke="#0a28ff" stroke-width="2"/><circle cx="27" cy="12" r="4.500" fill="#f01010"/><path d="M15 24l7-7" stroke="#000"/></g>
<g transform="translate(2015,286)"><use href="#bG"/><circle cx="12" cy="27" r="4.500" fill="#0a28ff"/><circle cx="27" cy="12" r="4.500" fill="#f01010"/><path d="M15 24l7-7" stroke="#000"/></g>

<g transform="translate(1895,326)"><use href="#bG"/><path d="M10 27L27 10" stroke="#e01010" stroke-width="2.500"/><path d="M9 31h21" stroke="#0a28ff" stroke-width="2.500"/><path d="M22 21l4 4" stroke="#000"/></g>
<g transform="translate(1935,326)"><use href="#bG"/><path d="M10 29l9-9" stroke="#0a28ff" stroke-width="2.500"/><path d="M19 20l9-11" stroke="#e01010" stroke-width="2.500"/></g>
<g transform="translate(1975,326)"><use href="#bG"/><path d="M18 10a9 9 0 0 1 0 18h-5" fill="none" stroke="#000" stroke-width="1.500"/><path d="M12 28l4-3v6z"/></g>
<g transform="translate(2015,326)"><use href="#bG"/><path d="M18 10H8M18 19h-8M18 10v20" fill="none" stroke="#0a28ff" stroke-width="2.500"/><path d="M19 6v26" stroke="#555"/><path d="M22 10h12M22 10v20M22 19h8" fill="none" stroke="#e01010" stroke-width="2.500"/></g>

<g transform="translate(1895,366)"><use href="#bG"/><rect x="7" y="23" width="11" height="11" fill="none" stroke="#0a28ff" stroke-width="1.500"/><circle cx="12.500" cy="28.500" r="3.500" fill="#0a28ff"/><rect x="21" y="6" width="11" height="11" fill="#e01010"/><circle cx="26.500" cy="11.500" r="3" fill="#fff"/></g>
<g transform="translate(1935,366)"><use href="#bG"/><path d="M8 19h22" stroke="#e01010" stroke-width="3"/><path d="M15 19h8" stroke="#0a28ff" stroke-width="3"/></g>
<g transform="translate(1975,366)"><use href="#bG"/><path d="M9 7v25M29 7v25" stroke="#333"/><path d="M10 19h18" stroke="#0a28ff"/><rect x="15" y="14" width="8" height="10" fill="none" stroke="#0a28ff"/></g>
<g transform="translate(2015,366)"><use href="#bG"/><path d="M8 8h12v7h12v15H8z" fill="#0a28ff"/><circle cx="14" cy="13" r="3" fill="#fff"/><circle cx="25" cy="23" r="5" fill="#fff"/></g>

<g transform="translate(1895,406)"><use href="#bG"/><path d="M9 25l10-12 10 12" fill="none" stroke="#e01010" stroke-width="2.500"/><path d="M8 26h22" stroke="#0a28ff" stroke-width="3"/></g>
<g transform="translate(1935,406)"><use href="#bG"/><path d="M8 32L19 5l11 27" fill="none" stroke="#e01010" stroke-width="2.500"/><path d="M9 32l10-11 10 11" fill="none" stroke="#0a28ff" stroke-width="2.500"/></g>
<g transform="translate(1975,406)"><use href="#bG"/><path d="M8 30l5-24h12l5 24" fill="none" stroke="#e01010" stroke-width="2.500"/><path d="M11 24h16M8 32l3-8M30 32l-3-8" fill="none" stroke="#0a28ff" stroke-width="2.500"/></g>
<g transform="translate(2015,406)"><use href="#bG"/><path d="M8 30l5-24h12l5 24" fill="none" stroke="#e01010" stroke-width="2.500"/><path d="M4 25h32" stroke="#0a28ff" stroke-width="2.500"/></g>

<g transform="translate(1895,446)"><use href="#bO"/><use href="#cur"/></g>
<g transform="translate(1935,446)"><use href="#bO"/><rect x="6.500" y="6.500" width="25" height="25" fill="none" stroke="#e01010" stroke-width="2.500"/><use href="#cur"/></g>
<g transform="translate(1975,446)"><use href="#bO"/><path d="M12 6h20v26H12l-6-7V12z" fill="none" stroke="#e01010" stroke-width="2.500"/><use href="#cur"/></g>
<g transform="translate(2015,446)"><use href="#bO"/><path d="M10 28V20h10V10h7" fill="none" stroke="#000" stroke-width="1.500"/><circle cx="10" cy="20" r="2.500" fill="#e01010"/><circle cx="10" cy="29" r="2.500" fill="#20c020"/><circle cx="28" cy="10" r="2.500" fill="#20c020"/></g>

<!-- thumbnail -->
<path d="M1895 687h153M1895 796h153" stroke="#4f8a30" stroke-width="1"/>
<rect x="1894" y="702" width="149" height="83" fill="#ff0000"/>
<path d="M1904 777.300V711.700L1908.300 710V705H2031.700V719.300H2024V769H2031.700V778.300H2028.300V782.300H1999V777.300H1942.300V782.300H1908.300Z" fill="none" stroke="#a0a0a0" stroke-width="2"/>
<path d="M1904 730V711.700L1908.300 710V705H2031.700V719.300H2024M2024 769H2031.700V778.300M1904 777.300L1908.300 782.300" fill="none" stroke="#2fd8d8" stroke-width="2"/>
<path d="M1900 778l8 8M1908 778l-8 8" stroke="#ddd"/>

<rect x="1893" y="993" width="155" height="3" fill="#b8dcd4"/>
<rect x="1894" y="996" width="154" height="39" fill="#5ccfb0"/>
<text class="m" x="1897" y="1014">X = -0.423761"</text>
<text class="m" x="1897" y="1029">Y = 3.437272"</text>

<!-- Popview 4 -->
<rect x="168" y="103" width="205" height="30" fill="#fff"/>
<use href="#wi" x="176" y="110"/>
<text class="t" x="197" y="124" textLength="85" style="fill:#222">Popview - 4</text>
<path d="M353 112l10 10M363 112l-10 10" stroke="#111"/>
<rect x="168" y="133" width="205" height="247" fill="#5ccfb0"/>
<rect x="168" y="133" width="166" height="247" fill="#2f6f63"/>
<rect x="171" y="136" width="163" height="241" fill="#000"/>
<rect x="171" y="377" width="166" height="3" fill="#c4f0e2"/><rect x="334" y="136" width="3" height="244" fill="#c4f0e2"/>
<use href="#side" x="338" y="135"/>
<path d="M202.500 376V278H316.500V376" fill="none" stroke="#b8960c" stroke-width="4.500"/>
<text class="d" font-size="28" transform="matrix(0 1 -1 0 219 241)">10</text>
<text class="d" font-size="30" transform="matrix(0 1 -1 0 280 252)">9</text>
<circle cx="236" cy="243" r="1.500" fill="#e01010"/>
<rect x="168" y="380" width="205" height="28" fill="#5ccfb0"/>
<rect x="170" y="382" width="201" height="24" fill="#9edada"/><path d="M170 406h201v-24" fill="none" stroke="#3f8f84" stroke-width="2"/>
<text class="m" x="248" y="399">Close</text>

<!-- Popview 1 -->
<rect x="408" y="38" width="204" height="31" fill="#fff"/>
<use href="#wi" x="417" y="47"/>
<text class="t" x="438" y="60" textLength="82">Popview - 1</text>
<path d="M592 48l10 10M602 48l-10 10" stroke="#888"/>
<rect x="408" y="69" width="204" height="249" fill="#5ccfb0"/>
<rect x="408" y="69" width="166" height="249" fill="#2f6f63"/>
<rect x="412" y="72" width="162" height="241" fill="#000"/>
<rect x="412" y="313" width="165" height="3" fill="#c4f0e2"/><rect x="574" y="72" width="3" height="244" fill="#c4f0e2"/>
<use href="#side" x="577" y="70.500"/>
<path d="M571 136.500H518.500V290.500H571" fill="none" stroke="#b8960c" stroke-width="5.500"/>
<text class="d" font-size="39" x="479" y="200">2</text>
<text class="d" font-size="39" x="475" y="279">1</text>
<rect x="408" y="316" width="204" height="28" fill="#5ccfb0"/>
<rect x="411" y="318" width="200" height="25" fill="#9edada"/><path d="M411 343h200v-25" fill="none" stroke="#3f8f84" stroke-width="2"/>
<text class="m" x="488" y="335">Close</text>

<!-- Popview 2 -->
<rect x="789" y="427" width="278" height="30" fill="#fff"/>
<use href="#wi" x="797" y="434"/>
<text class="t" x="818" y="447" textLength="85">Popview - 2</text>
<path d="M1047 436l10 10M1057 436l-10 10" stroke="#888"/>
<rect x="789" y="457" width="278" height="296" fill="#5ccfb0"/>
<rect x="789" y="457" width="238" height="267" fill="#2f6f63"/>
<rect x="792" y="459" width="235" height="262" fill="#000"/>
<rect x="792" y="721" width="238" height="3" fill="#c4f0e2"/><rect x="1027" y="459" width="3" height="265" fill="#c4f0e2"/>
<use href="#side" x="1032" y="458.500"/>
<path d="M793 527H948V677H793" fill="none" stroke="#b8960c" stroke-width="5.500"/>
<text class="d" font-size="39" x="886" y="521">10</text>
<text class="d" font-size="39" x="896" y="717">9</text>
<text x="798" y="707" font-family="Liberation Sans,sans-serif" font-size="34" fill="#b8960c">X</text>
<path d="M988.500 720V651.500H1026" fill="none" stroke="#3f8a10" stroke-width="3"/>
<path d="M991.500 720V654H1026" fill="none" stroke="#e01010" stroke-width="3"/>
<rect x="789" y="724" width="278" height="29" fill="#2f6f63"/>
<rect x="791" y="726" width="274" height="25" fill="#9edada"/><path d="M791 751h274v-25" fill="none" stroke="#3f8f84" stroke-width="2"/>
<text class="m" x="904" y="743">Close</text>

<!-- Popview 3 -->
<rect x="330" y="692" width="395" height="31" fill="#fff"/>
<use href="#wi" x="338" y="700"/>
<text class="t" x="360" y="712" textLength="84">Popview - 3</text>
<path d="M705 701l10 10M715 701l-10 10" stroke="#888"/>
<rect x="330" y="723" width="395" height="312" fill="#5ccfb0"/>
<rect x="330" y="723" width="354" height="312" fill="#2f6f63"/>
<rect x="333.500" y="726" width="350.500" height="309" fill="#000"/>
<rect x="684" y="726" width="3" height="309" fill="#c4f0e2"/>
<use href="#side" x="690" y="724"/>
<rect x="334" y="811.500" width="350" height="15.500" fill="#b8960c"/>
<text class="d" font-size="105" transform="matrix(0 1 -1 0 363 857)">2</text>
<text class="d" font-size="105" transform="matrix(0 .66 -1 0 556 874)">1</text>
</svg>
</body></html>
